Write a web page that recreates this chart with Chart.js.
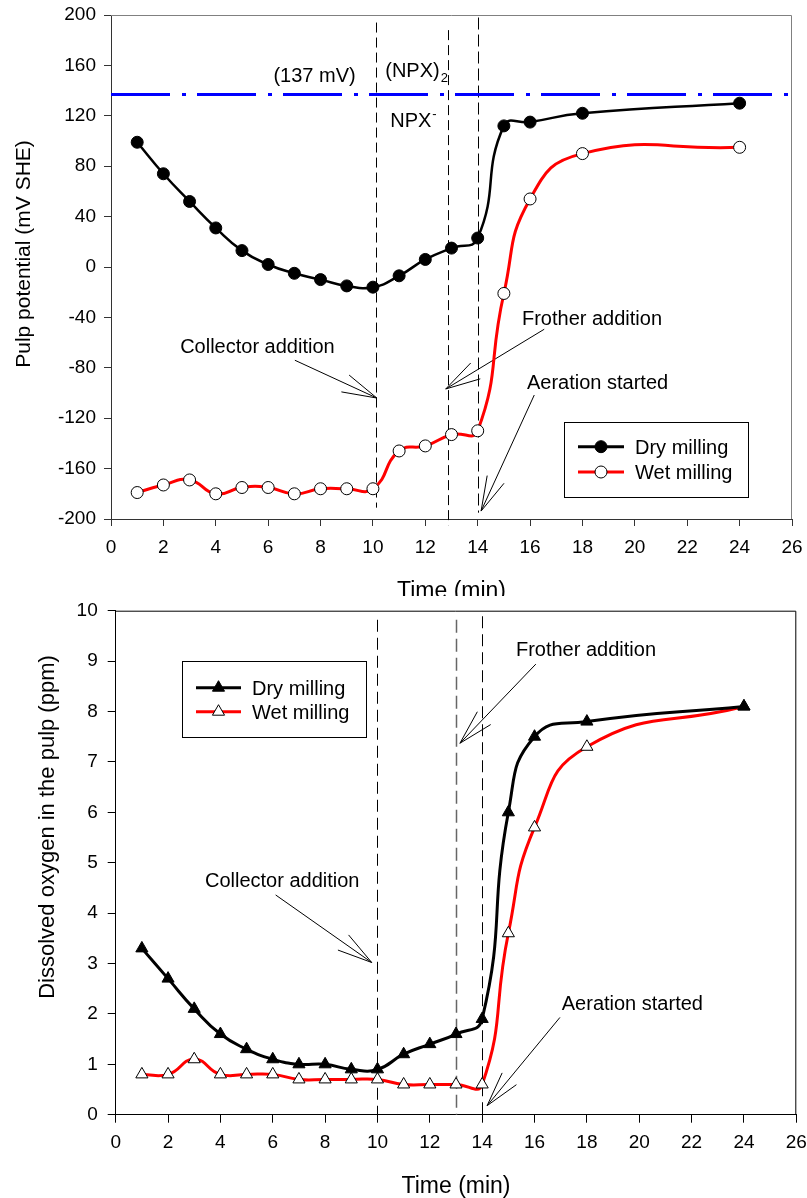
<!DOCTYPE html>
<html>
<head>
<meta charset="utf-8">
<script src="https://cdn.jsdelivr.net/npm/chart.js@4.4.1/dist/chart.umd.min.js"></script>
<style>
  body { margin: 0; background: #fff; }
  #topWrap { width: 807px; height: 596px; overflow: hidden; }
  canvas { display: block; }
</style>
</head>
<body>
<div id="topWrap"><canvas id="potential" width="807" height="620"></canvas></div>
<canvas id="oxygen" width="807" height="602"></canvas>
<script>
// values
const timeMin = [1, 2, 3, 4, 5, 6, 7, 8, 9, 10, 11, 12, 13, 14, 15, 16, 18, 24];
const potDry = [99, 74, 52, 31, 13, 2, -5, -10, -15, -16, -7, 6, 15, 23, 112, 115, 122, 130];
const potWet = [-179, -173, -169, -180, -175, -175, -180, -176, -176, -176, -146, -142, -133, -130, -21, 54, 90, 95];
const oxyDry = [3.3, 2.7, 2.1, 1.6, 1.3, 1.1, 1.0, 1.0, 0.9, 0.9, 1.2, 1.4, 1.6, 1.9, 6.0, 7.5, 7.8, 8.1];
const oxyWet = [0.8, 0.8, 1.1, 0.8, 0.8, 0.8, 0.7, 0.7, 0.7, 0.7, 0.6, 0.6, 0.6, 0.6, 3.6, 5.7, 7.3, 8.1];
const seriesNames = ['Dry milling', 'Wet milling'];
const potRef = 137;          // (NPX)2 / NPX- level, mV
const timeRange = [0, 26];
const potRange = [-200, 200];
const oxyRange = [0, 10];

const FONT = "'Liberation Sans', Arial, Helvetica, sans-serif";
Chart.defaults.font.family = FONT;
Chart.defaults.color = '#000';

function pts(xs, ys) {
    return xs.map(function(x, i) { return {x: x, y: ys[i]}; });
}

function arrow(ctx, x0, y0, x1, y1) {
    var a = Math.atan2(y0 - y1, x0 - x1);
    ctx.beginPath();
    ctx.moveTo(x0, y0);
    ctx.lineTo(x1, y1);
    [-0.26, 0.26].forEach(function(d) {
        ctx.moveTo(x1, y1);
        ctx.lineTo(x1 + 36 * Math.cos(a + d), y1 + 36 * Math.sin(a + d));
    });
    ctx.stroke();
}

// frame, event lines, arrows, labels, legend and axis titles
var extras = {
    id: 'extras',
    beforeDatasetsDraw: function(chart, args, o) {
        var ctx = chart.ctx, xs = chart.scales.x, ys = chart.scales.y, a = chart.chartArea;
        ctx.save();
        ctx.strokeStyle = o.frameColor;
        ctx.lineWidth = 1;
        ctx.beginPath();
        ctx.moveTo(a.left, a.top + 0.5);
        ctx.lineTo(a.right - 0.5, a.top + 0.5);
        ctx.lineTo(a.right - 0.5, a.bottom);
        ctx.stroke();

        o.vlines.forEach(function(v) {
            var px = Math.round(xs.getPixelForValue(v.t)) + 0.5;
            ctx.strokeStyle = v.color || '#000';
            ctx.lineWidth = v.width || 1;
            ctx.setLineDash(v.dash);
            ctx.beginPath();
            ctx.moveTo(px, ys.getPixelForValue(v.from));
            ctx.lineTo(px, ys.getPixelForValue(v.to));
            ctx.stroke();
        });
        ctx.setLineDash([]);

        ctx.strokeStyle = '#000';
        ctx.lineWidth = 1;
        o.arrows.forEach(function(r) {
            arrow(ctx, xs.getPixelForValue(r.from[0]), ys.getPixelForValue(r.from[1]),
                       xs.getPixelForValue(r.to[0]), ys.getPixelForValue(r.to[1]));
        });
        ctx.restore();
    },
    afterDraw: function(chart, args, o) {
        var ctx = chart.ctx, xs = chart.scales.x, ys = chart.scales.y, a = chart.chartArea;
        ctx.save();
        ctx.fillStyle = '#000';
        ctx.textBaseline = 'alphabetic';
        ctx.textAlign = 'left';

        o.labels.forEach(function(l) {
            var x = xs.getPixelForValue(l.t), y = ys.getPixelForValue(l.v);
            ctx.font = '20px ' + FONT;
            ctx.fillText(l.text, x, y);
            var w = ctx.measureText(l.text).width;
            ctx.font = '13px ' + FONT;
            if (l.sub) ctx.fillText(l.sub, x + w + 1, y + 5);
            if (l.sup) ctx.fillText(l.sup, x + w + 1, y - 9);
        });

        // legend
        var g = o.legend;
        ctx.strokeStyle = '#000';
        ctx.lineWidth = 1;
        ctx.strokeRect(g.x + 0.5, g.y + 0.5, g.w, g.h);
        ctx.font = '20px ' + FONT;
        g.rows.forEach(function(ry, i) {
            var ds = chart.data.datasets[i];
            ctx.strokeStyle = ds.borderColor;
            ctx.lineWidth = 3;
            ctx.beginPath();
            ctx.moveTo(g.x0, ry);
            ctx.lineTo(g.x1, ry);
            ctx.stroke();
            ctx.fillStyle = ds.pointBackgroundColor;
            ctx.strokeStyle = ds.pointBorderColor;
            ctx.lineWidth = ds.pointBorderWidth;
            Chart.helpers.drawPoint(ctx, {pointStyle: ds.pointStyle, radius: ds.pointRadius, rotation: 0,
                borderWidth: ds.pointBorderWidth}, (g.x0 + g.x1) / 2, ry);
            ctx.fillStyle = '#000';
            ctx.fillText(ds.label, g.tx, ry + 7);
        });

        // axis titles
        ctx.textAlign = 'center';
        ctx.font = '23px ' + FONT;
        ctx.fillText(o.xTitle, (a.left + a.right) / 2, o.xTitleY);
        ctx.translate(o.yTitle.x, o.yTitle.y);
        ctx.rotate(-Math.PI / 2);
        ctx.font = o.yTitle.size + 'px ' + FONT;
        ctx.fillText(o.yTitle.text, 0, 0);
        ctx.restore();
    }
};

function axes(yr, yStep, left, xHeight, tl, xPad, yPad, col) {
    return {
        x: {
            type: 'linear', min: timeRange[0], max: timeRange[1],
            ticks: {stepSize: 2, padding: xPad, font: {size: 19}, color: '#000'},
            grid: {drawOnChartArea: false, drawTicks: true, tickLength: tl, color: col},
            border: {display: true, color: col, width: 1},
            afterFit: function(s) {
                s.height = xHeight;
                s.paddingLeft = 0; s.paddingRight = 0;
            }
        },
        y: {
            min: yr[0], max: yr[1],
            ticks: {stepSize: yStep, padding: yPad, font: {size: 19}, color: '#000'},
            grid: {drawOnChartArea: false, drawTicks: true, tickLength: tl, color: col},
            border: {display: true, color: col, width: 1},
            afterFit: function(s) {
                s.width = left;
                s.paddingTop = 0; s.paddingBottom = 0;
            }
        }
    };
}

document.addEventListener('DOMContentLoaded', function() {

    new Chart(document.getElementById('potential').getContext('2d'), {
        type: 'line',
        data: {
            datasets: [{
                label: seriesNames[0],
                data: pts(timeMin, potDry),
                borderColor: '#000', borderWidth: 2.5, tension: 0.5,
                pointStyle: 'circle', pointRadius: 6,
                pointBackgroundColor: '#000', pointBorderColor: '#000', pointBorderWidth: 1
            }, {
                label: seriesNames[1],
                data: pts(timeMin, potWet),
                borderColor: '#ff0000', borderWidth: 3, tension: 0.5,
                pointStyle: 'circle', pointRadius: 6,
                pointBackgroundColor: '#fff', pointBorderColor: '#000', pointBorderWidth: 1
            }, {
                label: 'ref',
                data: pts(timeRange, [potRef, potRef]),
                borderColor: '#0000ff', borderWidth: 3, borderDash: [59, 12, 4, 11],
                pointRadius: 0, tension: 0
            }]
        },
        options: {
            responsive: false, animation: false, events: [],
            layout: {padding: {top: 15, right: 15, left: 0, bottom: 0}},
            scales: axes(potRange, 40, 111, 101, 7, 10, 8, '#333'),
            plugins: {
                legend: {display: false},
                tooltip: {enabled: false},
                extras: {
                    frameColor: '#808080',
                    vlines: [
                        {t: 10.1, from: 194, to: -191, dash: [10, 5]},
                        {t: 12.88, from: 188, to: -205, dash: [10, 5]},
                        {t: 14, from: 198, to: -195, dash: [12, 5]}
                    ],
                    arrows: [
                        {from: [7.02, -74], to: [10.15, -104]},
                        {from: [16.54, -49.4], to: [12.78, -96.8]},
                        {from: [16.16, -101.6], to: [14.13, -193.7]}
                    ],
                    labels: [
                        {text: 'Collector addition', t: 2.64, v: -68},
                        {text: 'Frother addition', t: 15.69, v: -46},
                        {text: 'Aeration started', t: 15.88, v: -97.1},
                        {text: '(137 mV)', t: 6.2, v: 146.6},
                        {text: '(NPX)', sub: '2', t: 10.47, v: 150.6},
                        {text: 'NPX', sup: '-', t: 10.66, v: 111.3}
                    ],
                    legend: {x: 564, y: 422, w: 184, h: 75, rows: [446.7, 472], x0: 578, x1: 624, tx: 635},
                    xTitle: 'Time (min)', xTitleY: 598,
                    yTitle: {text: 'Pulp potential (mV SHE)', x: 30, y: 254, size: 21}
                }
            }
        },
        plugins: [extras]
    });

    new Chart(document.getElementById('oxygen').getContext('2d'), {
        type: 'line',
        data: {
            datasets: [{
                label: seriesNames[0],
                data: pts(timeMin, oxyDry),
                borderColor: '#000', borderWidth: 3, tension: 0.5,
                pointStyle: 'triangle', pointRadius: 7,
                pointBackgroundColor: '#000', pointBorderColor: '#000', pointBorderWidth: 1
            }, {
                label: seriesNames[1],
                data: pts(timeMin, oxyWet),
                borderColor: '#ff0000', borderWidth: 3, tension: 0.5,
                pointStyle: 'triangle', pointRadius: 7,
                pointBackgroundColor: '#fff', pointBorderColor: '#000', pointBorderWidth: 1
            }]
        },
        options: {
            responsive: false, animation: false, events: [],
            layout: {padding: {top: 14.7, right: 10.7, left: 0, bottom: 0}},
            scales: axes(oxyRange, 1, 115.7, 83.3, 8, 9, 10, '#000'),
            plugins: {
                legend: {display: false},
                tooltip: {enabled: false},
                extras: {
                    frameColor: '#000',
                    vlines: [
                        {t: 10, from: 9.82, to: 0, dash: [12, 6]},
                        {t: 13, from: 9.82, to: 0, dash: [13, 6], color: '#666', width: 1.5},
                        {t: 14, from: 9.89, to: 0, dash: [12, 6]}
                    ],
                    arrows: [
                        {from: [6.11, 4.36], to: [9.78, 3.02]},
                        {from: [16.05, 8.94], to: [13.15, 7.37]},
                        {from: [16.97, 1.93], to: [14.19, 0.18]}
                    ],
                    labels: [
                        {text: 'Collector addition', t: 3.41, v: 4.51},
                        {text: 'Frother addition', t: 15.29, v: 9.10},
                        {text: 'Aeration started', t: 17.04, v: 2.08}
                    ],
                    legend: {x: 182, y: 65, w: 184, h: 76, rows: [91.7, 115.7], x0: 196, x1: 241, tx: 252},
                    xTitle: 'Time (min)', xTitleY: 597,
                    yTitle: {text: 'Dissolved oxygen in the pulp (ppm)', x: 54, y: 231, size: 22}
                }
            }
        },
        plugins: [extras]
    });
});
</script>
</body>
</html>
